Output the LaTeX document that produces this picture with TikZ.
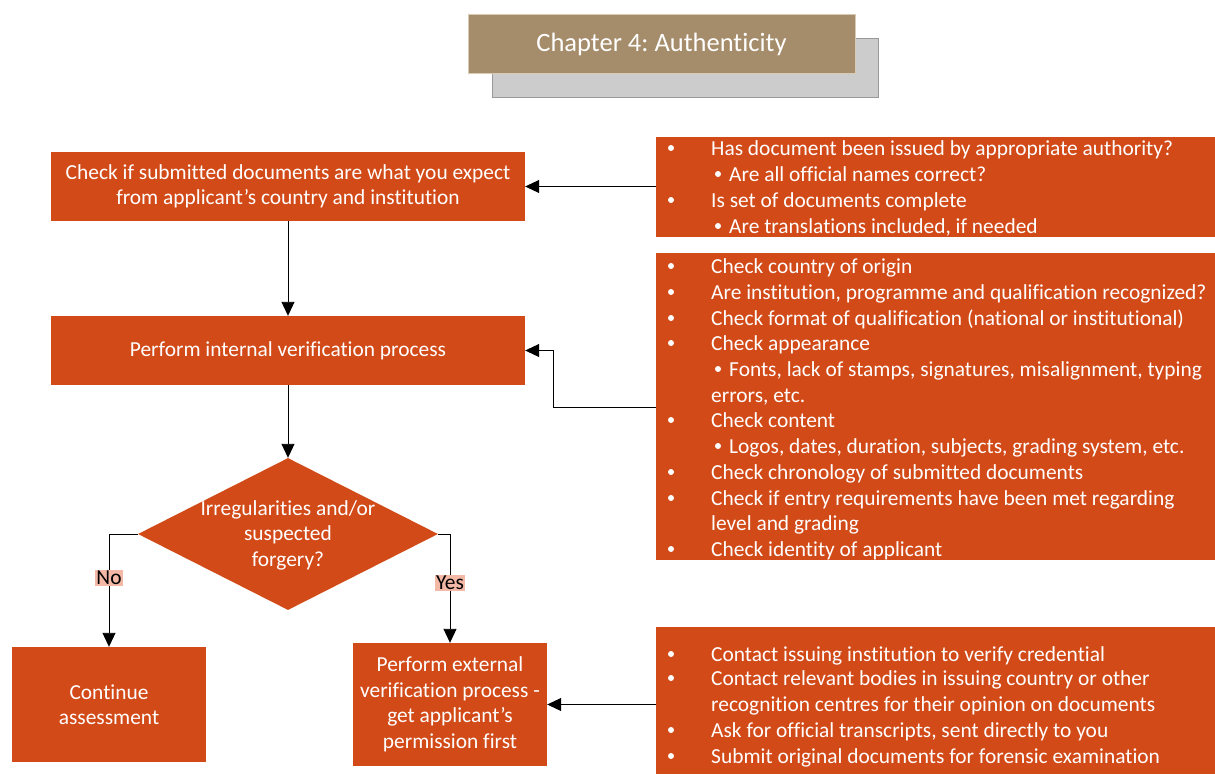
\documentclass[tikz,border=0pt]{standalone}
\usepackage{fontspec}
\setmainfont[Ligatures=NoCommon]{Carlito}
\frenchspacing
\usetikzlibrary{arrows.meta,shapes.geometric}
\definecolor{orng}{HTML}{D24A18}
\definecolor{tanc}{HTML}{A58C6A}
\definecolor{tanline}{HTML}{D8CBB4}
\definecolor{shad}{HTML}{CCCCCC}
\definecolor{shadline}{HTML}{9A9A9A}
\definecolor{pinklab}{HTML}{F4B9A6}
\tikzset{
  procbox/.style={fill=orng, text=white, align=center, inner sep=0pt, font=\fontsize{21.4}{25.5}\selectfont},
  listbox/.style={fill=orng, inner sep=0pt, anchor=north west},
  itemtxt/.style={text=white, anchor=base west, inner sep=0pt, font=\fontsize{21.4}{25.5}\selectfont},
  arr/.style={draw=black, line width=0.9pt, -{Triangle[length=14pt,width=13pt]}},
  lab/.style={fill=pinklab, text=black, inner sep=1.5pt, font=\fontsize{21.4}{24}\selectfont},
}
\newcommand\mybul[1]{\fill[white] (671,#1) circle (3);}
\newcommand\mysub[1]{\fill[white] (718,#1) circle (3);}
\begin{document}
\begin{tikzpicture}[x=1pt,y=-1pt]
\useasboundingbox (0,0) rectangle (1215,774);
% title
\node[fill=shad, draw=shadline, line width=0.8pt, minimum width=386pt, minimum height=59pt, inner sep=0pt] (tshadow) at (685,67.5) {};
\node[fill=tanc, draw=tanline, line width=0.8pt, minimum width=387pt, minimum height=59pt, inner sep=0pt, text=white, font=\fontsize{26.5}{30}\selectfont] (title) at (661.5,44) {Chapter 4: Authenticity};
% process boxes
\node[procbox, minimum width=474pt, minimum height=69pt] (box1) at (288,186.5) {Check if submitted documents are what you expect\\from applicant’s country and institution};
\node[procbox, minimum width=474pt, minimum height=69pt] (box2) at (288,350.5) {Perform internal verification process};
\node[diamond, fill=orng, minimum width=300pt, minimum height=152pt, inner sep=0pt] (dia) at (288,534) {};
\node[procbox, fill=none] (diatext) at (288,535) {Irregularities and/or\\suspected\\forgery?};
\node[procbox, minimum width=194pt, minimum height=115pt] (cont) at (109,704.5) {Continue\\assessment};
\node[procbox, minimum width=194pt, minimum height=123pt] (ext) at (450,704.5) {Perform external\\verification process -\\get applicant’s\\permission first};
% list boxes
\node[listbox, minimum width=559pt, minimum height=100pt] (l1) at (656,137) {};
\node[listbox, minimum width=559pt, minimum height=307pt] (l2) at (656,253) {};
\node[listbox, minimum width=559pt, minimum height=147pt] (l3) at (656,627) {};
% list 1
\mybul{148}\node[itemtxt] (l1a) at (711,155) {Has document been issued by appropriate authority?};
\mysub{174}\node[itemtxt] (l1b) at (729,181) {Are all official names correct?};
\mybul{200}\node[itemtxt] (l1c) at (711,207) {Is set of documents complete};
\mysub{226}\node[itemtxt] (l1d) at (729,233) {Are translations included, if needed};
% list 2
\mybul{266}\node[itemtxt] (l2a) at (711,273) {Check country of origin};
\mybul{292}\node[itemtxt] (l2b) at (711,299) {Are institution, programme and qualification recognized?};
\mybul{318}\node[itemtxt] (l2c) at (711,325) {Check format of qualification (national or institutional)};
\mybul{343}\node[itemtxt] (l2d) at (711,350) {Check appearance};
\mysub{369}\node[itemtxt] (l2e) at (729,376) {Fonts, lack of stamps, signatures, misalignment, typing};
\node[itemtxt] (l2f) at (711,402) {errors, etc.};
\mybul{420}\node[itemtxt] (l2g) at (711,427) {Check content};
\mysub{446}\node[itemtxt] (l2h) at (729,453) {Logos, dates, duration, subjects, grading system, etc.};
\mybul{472}\node[itemtxt] (l2i) at (711,479) {Check chronology of submitted documents};
\mybul{498}\node[itemtxt] (l2j) at (711,505) {Check if entry requirements have been met regarding};
\node[itemtxt] (l2k) at (711,530) {level and grading};
\mybul{549}\node[itemtxt] (l2l) at (711,556) {Check identity of applicant};
% list 3
\mybul{654}\node[itemtxt] (l3a) at (711,661) {Contact issuing institution to verify credential};
\mybul{678}\node[itemtxt] (l3b) at (711,685) {Contact relevant bodies in issuing country or other};
\node[itemtxt] (l3c) at (711,711) {recognition centres for their opinion on documents};
\mybul{730}\node[itemtxt] (l3d) at (711,737) {Ask for official transcripts, sent directly to you};
\mybul{756}\node[itemtxt] (l3e) at (711,763) {Submit original documents for forensic examination};
% connectors
\draw[arr] (l1.west |- box1.east) -- (box1.east);
\draw[arr] (box1.south) -- (box2.north);
\coordinate (l2bend) at (553,407);
\draw[arr] (l2.west |- l2bend) -- (l2bend) |- (box2.east);
\draw[arr] (box2.south) -- (dia.north);
\draw[arr] (dia.west) -| (cont.north) node[lab, pos=0.695] (no) {No};
\draw[arr] (dia.east) -| (ext.north) node[lab, pos=0.725] (yes) {Yes};
\draw[arr] (l3.west |- ext.east) -- (ext.east);
\end{tikzpicture}
\end{document}
